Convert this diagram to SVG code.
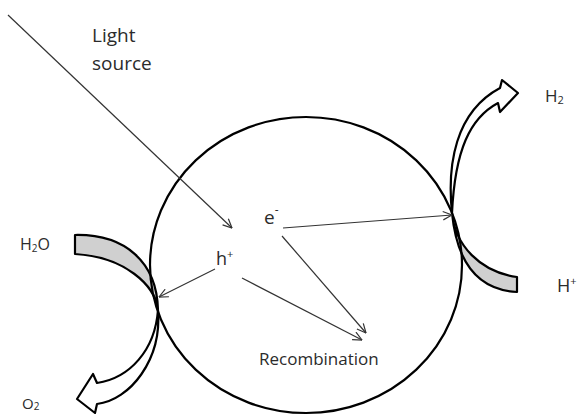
<svg xmlns="http://www.w3.org/2000/svg" width="577" height="415" viewBox="0 0 577 415">
  <style>
    .lbl { font-family: "Open Sans", "Liberation Sans", sans-serif; fill: #2b2b2b; }
    .conn { stroke: #333; stroke-width: 1.2; fill: none; }
    .band { stroke: #000; stroke-width: 2.2; stroke-linejoin: round; }
    .shade { fill: #d0d0d0; }
    .body { fill: #fff; }
  </style>
  <defs>
    <marker id="open-head" viewBox="0 0 10 10" refX="9.5" refY="5" markerWidth="10" markerHeight="10" markerUnits="userSpaceOnUse" orient="auto">
      <path d="M0.5,0.8 L9.5,5 L0.5,9.2" fill="none" stroke="#333" stroke-width="1.2"/>
    </marker>
  </defs>

  <rect width="577" height="415" fill="#fff"/>

  <!-- left curved arrow: H2O in, O2 out -->
  <g id="water-oxidation">
    <path class="band shade" d="M75,235 C125,234 157,262 158,310 C155,285 125,257 75,254 Z"/>
    <path class="band body" d="M158,310 C162,360 130,400 97,404 L95,413 L77,399 L93,374 L97,383 C130,378 155,350 158,310 Z"/>
  </g>

  <!-- right curved arrow: H+ in, H2 out -->
  <g id="proton-reduction">
    <path class="band shade" d="M452,213 C455,245 480,272 517,277 L517,292 C480,290 457,265 452,213 Z"/>
    <path class="band body" d="M452,213 C447,165 455,112 500,88 L502,80 L518,93 L500,112 L498,103 C470,118 455,150 452,213 Z"/>
  </g>

  <!-- semiconductor particle -->
  <g id="particle">
    <ellipse cx="306" cy="265" rx="156" ry="148" fill="none" stroke="#000" stroke-width="2.2"/>
  </g>

  <g id="connectors">
    <line class="conn" x1="8" y1="15" x2="232" y2="228" marker-end="url(#open-head)"/>
    <line class="conn" x1="283" y1="228" x2="452" y2="215" marker-end="url(#open-head)"/>
    <line class="conn" x1="282" y1="236" x2="366" y2="333" marker-end="url(#open-head)"/>
    <line class="conn" x1="242" y1="278" x2="362" y2="340" marker-end="url(#open-head)"/>
    <line class="conn" x1="215" y1="269" x2="159" y2="297" marker-end="url(#open-head)"/>
  </g>

  <g id="light-source">
    <text class="lbl" x="92" y="42" font-size="19">Light</text>
    <text class="lbl" x="92" y="70" font-size="19">source</text>
  </g>

  <g id="electron">
    <text class="lbl" x="264" y="224" font-size="19">e<tspan font-size="12" dy="-10">-</tspan></text>
  </g>

  <g id="hole">
    <text class="lbl" x="216" y="265" font-size="18">h<tspan font-size="11" dy="-7">+</tspan></text>
  </g>

  <g id="recombination">
    <text class="lbl" x="259" y="365" font-size="17">Recombination</text>
  </g>

  <g id="h2o">
    <text class="lbl" x="20" y="250" font-size="16">H<tspan font-size="10" dy="2">2</tspan><tspan dy="-2">O</tspan></text>
  </g>

  <g id="o2">
    <text class="lbl" x="22" y="409" font-size="15">O<tspan font-size="10" dy="1">2</tspan></text>
  </g>

  <g id="h2">
    <text class="lbl" x="545" y="102" font-size="17">H<tspan font-size="11" dy="2">2</tspan></text>
  </g>

  <g id="hplus">
    <text class="lbl" x="557" y="292" font-size="18">H<tspan font-size="11" dy="-7">+</tspan></text>
  </g>
</svg>
